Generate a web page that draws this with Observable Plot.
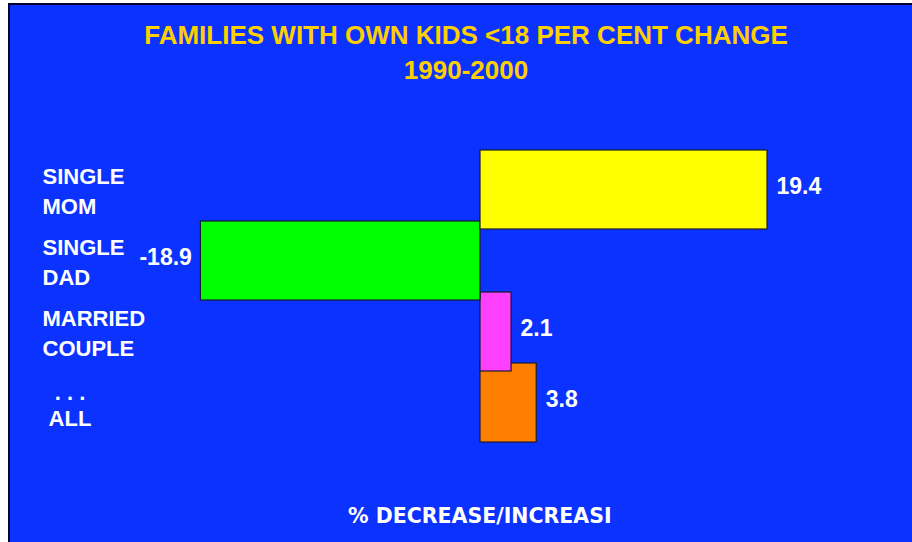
<!DOCTYPE html>
<html>
<head>
<meta charset="utf-8">
<script src="https://cdn.jsdelivr.net/npm/d3@7"></script>
<script src="https://cdn.jsdelivr.net/npm/@observablehq/plot@0.6"></script>
<style>
  html, body { margin: 0; padding: 0; background: #ffffff; width: 912px; height: 542px; overflow: hidden; }
  #frame {
    position: absolute; left: 8px; top: 3px; width: 904px; height: 539px;
    box-sizing: border-box; border-left: 2px solid #00002e; border-top: 2px solid #00002e;
    background: #0c32ff; overflow: hidden;
  }
  #title {
    height: 115px; box-sizing: border-box; padding-top: 12.5px; padding-left: 10px;
    text-align: center; color: #ffd000; font-family: "Liberation Sans", Arial, sans-serif;
    font-weight: bold; font-size: 26px; line-height: 35px;
  }
  #chart svg { display: block; }
  #caption {
    height: 32px; line-height: 32px; padding-left: 338px; color: #ffffff;
    font-family: "DejaVu Sans", Verdana, sans-serif; font-weight: bold; font-size: 20.5px;
    white-space: nowrap;
  }
</style>
</head>
<body>
<div id="frame">
  <div id="title">FAMILIES WITH OWN KIDS &lt;18 PER CENT CHANGE<br>1990-2000</div>
  <div id="chart"></div>
  <div id="caption">% DECREASE/INCREASI</div>
</div>
<script>
const categories = ["SINGLE MOM", "SINGLE DAD", "MARRIED COUPLE", "ALL"];
const categoryLabels = ["SINGLE\nMOM", "SINGLE\nDAD", "MARRIED\nCOUPLE", "\u00a0\u00a0. . .\n\u00a0ALL"];
const values = [19.4, -18.9, 2.1, 3.8];
const barColors = ["#ffff00", "#00ff00", "#ff40ff", "#ff7f00"];

const rows = categories.map((c, i) => ({category: c, label: categoryLabels[i], value: values[i], color: barColors[i]}));
const drawOrder = rows.slice().reverse();
const labelFont = {fill: "#ffffff", fontSize: 22, fontWeight: "bold", fontFamily: "Liberation Sans, Arial, sans-serif"};

const chart = Plot.plot({
  width: 902,
  height: 380,
  marginLeft: 100.15,
  marginRight: 62.15,
  marginTop: 33.7,
  marginBottom: 62.3,
  style: {background: "transparent", overflow: "visible"},
  x: {domain: [-25, 25], axis: null},
  y: {domain: categories, padding: 0, axis: null},
  marks: [
    Plot.barX(drawOrder, {
      x: "value", y: "category", fill: "color",
      stroke: "#1a1a2a", strokeWidth: 1.2,
      insetTop: -4, insetBottom: -4
    }),
    Plot.text(rows.filter(d => d.value >= 0), {
      x: "value", y: "category", text: d => d.value.toFixed(1),
      textAnchor: "start", dx: 9, dy: -3,
      fill: "#ffffff", fontSize: 23, fontWeight: "bold",
      fontFamily: "Liberation Sans, Arial, sans-serif"
    }),
    Plot.text(rows.filter(d => d.value < 0), {
      x: "value", y: "category", text: d => d.value.toFixed(1),
      textAnchor: "end", dx: -9, dy: -3,
      fill: "#ffffff", fontSize: 23, fontWeight: "bold",
      fontFamily: "Liberation Sans, Arial, sans-serif"
    }),
    Plot.text(rows.filter(d => d.category !== "ALL"), {
      y: "category", text: "label", frameAnchor: "left",
      textAnchor: "start", dx: -68.15, dy: -1, lineHeight: 1.364,
      ...labelFont
    }),
    Plot.text(rows.filter(d => d.category === "ALL"), {
      y: "category", text: "label", frameAnchor: "left",
      textAnchor: "start", dx: -68.15, dy: 2, lineHeight: 1.15,
      ...labelFont
    })
  ]
});
document.getElementById("chart").appendChild(chart);
</script>
</body>
</html>
